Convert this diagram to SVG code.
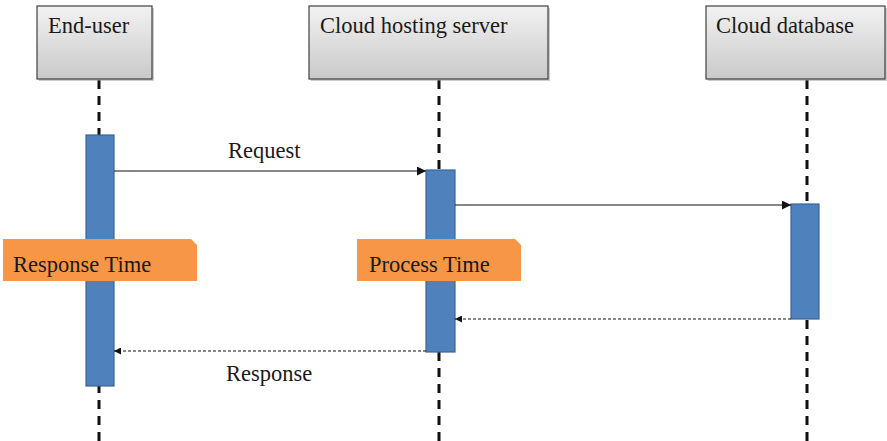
<svg xmlns="http://www.w3.org/2000/svg" width="887" height="441" viewBox="0 0 887 441">
<defs>
<linearGradient id="g" x1="0" y1="0" x2="0" y2="1">
<stop offset="0" stop-color="#f2f2f2"/>
<stop offset="1" stop-color="#c9c9c9"/>
</linearGradient>
<marker id="ah" viewBox="0 0 10 10" refX="10" refY="5" markerWidth="9" markerHeight="9" markerUnits="userSpaceOnUse" orient="auto">
<path d="M0,0 L10,5 L0,10 z" fill="#111"/>
</marker>
<marker id="ah2" viewBox="0 0 10 10" refX="10" refY="5" markerWidth="7" markerHeight="7" markerUnits="userSpaceOnUse" orient="auto">
<path d="M0,0 L10,5 L0,10 z" fill="#111"/>
</marker>
</defs>
<style>
.box{fill:url(#g);stroke:#404040;stroke-width:1.2}
.shadow{fill:#999;opacity:0.5}
.life{stroke:#111;stroke-width:3;stroke-dasharray:9 7;fill:none}
.bar{fill:#4f81bd;stroke:#3b6493;stroke-width:1.2}
.lbl{font-family:"Liberation Serif",serif;font-size:22.5px;fill:#1a1a1a}
.tag{fill:#f79646}
.msg{stroke:#111;stroke-width:1.2;fill:none;marker-end:url(#ah)}
.ret{stroke:#111;stroke-width:1.2;fill:none;stroke-dasharray:3 2;marker-end:url(#ah2)}
</style>
<g id="lifelines">
<line class="life" x1="99" y1="80" x2="99" y2="441"/>
<line class="life" x1="439" y1="80" x2="439" y2="441"/>
<line class="life" x1="807" y1="80" x2="807" y2="441"/>
</g>
<g id="end-user">
<rect class="shadow" x="39" y="8" width="115" height="73"/>
<rect class="box" x="37" y="6" width="115" height="73"/>
<text class="lbl" x="48" y="33">End-user</text>
</g>
<g id="cloud-hosting-server">
<rect class="shadow" x="311" y="8" width="239" height="73"/>
<rect class="box" x="309" y="6" width="239" height="73"/>
<text class="lbl" x="320" y="33">Cloud hosting server</text>
</g>
<g id="cloud-database">
<rect class="shadow" x="708" y="8" width="179" height="73"/>
<rect class="box" x="706" y="6" width="179" height="73"/>
<text class="lbl" x="716" y="33">Cloud database</text>
</g>
<g id="bar-end-user">
<rect class="bar" x="86" y="135" width="28" height="251"/>
</g>
<g id="bar-hosting">
<rect class="bar" x="426" y="170" width="29" height="182"/>
</g>
<g id="bar-database">
<rect class="bar" x="791" y="204" width="28" height="115"/>
</g>
<g id="connectors">
<line class="msg" x1="114" y1="171" x2="426" y2="171"/>
<text class="lbl" x="228" y="158">Request</text>
<line class="msg" x1="455" y1="205" x2="791" y2="205"/>
<line class="ret" x1="791" y1="319" x2="455" y2="319"/>
<line class="ret" x1="426" y1="351" x2="114" y2="351"/>
<text class="lbl" x="226" y="381">Response</text>
</g>
<g id="response-time">
<path class="tag" d="M3,239 H191 L197,245 V281 H3 Z"/>
<text class="lbl" x="13" y="272">Response Time</text>
</g>
<g id="process-time">
<path class="tag" d="M357,239 H515 L521,245 V281 H357 Z"/>
<text class="lbl" x="369" y="272">Process Time</text>
</g>
</svg>
